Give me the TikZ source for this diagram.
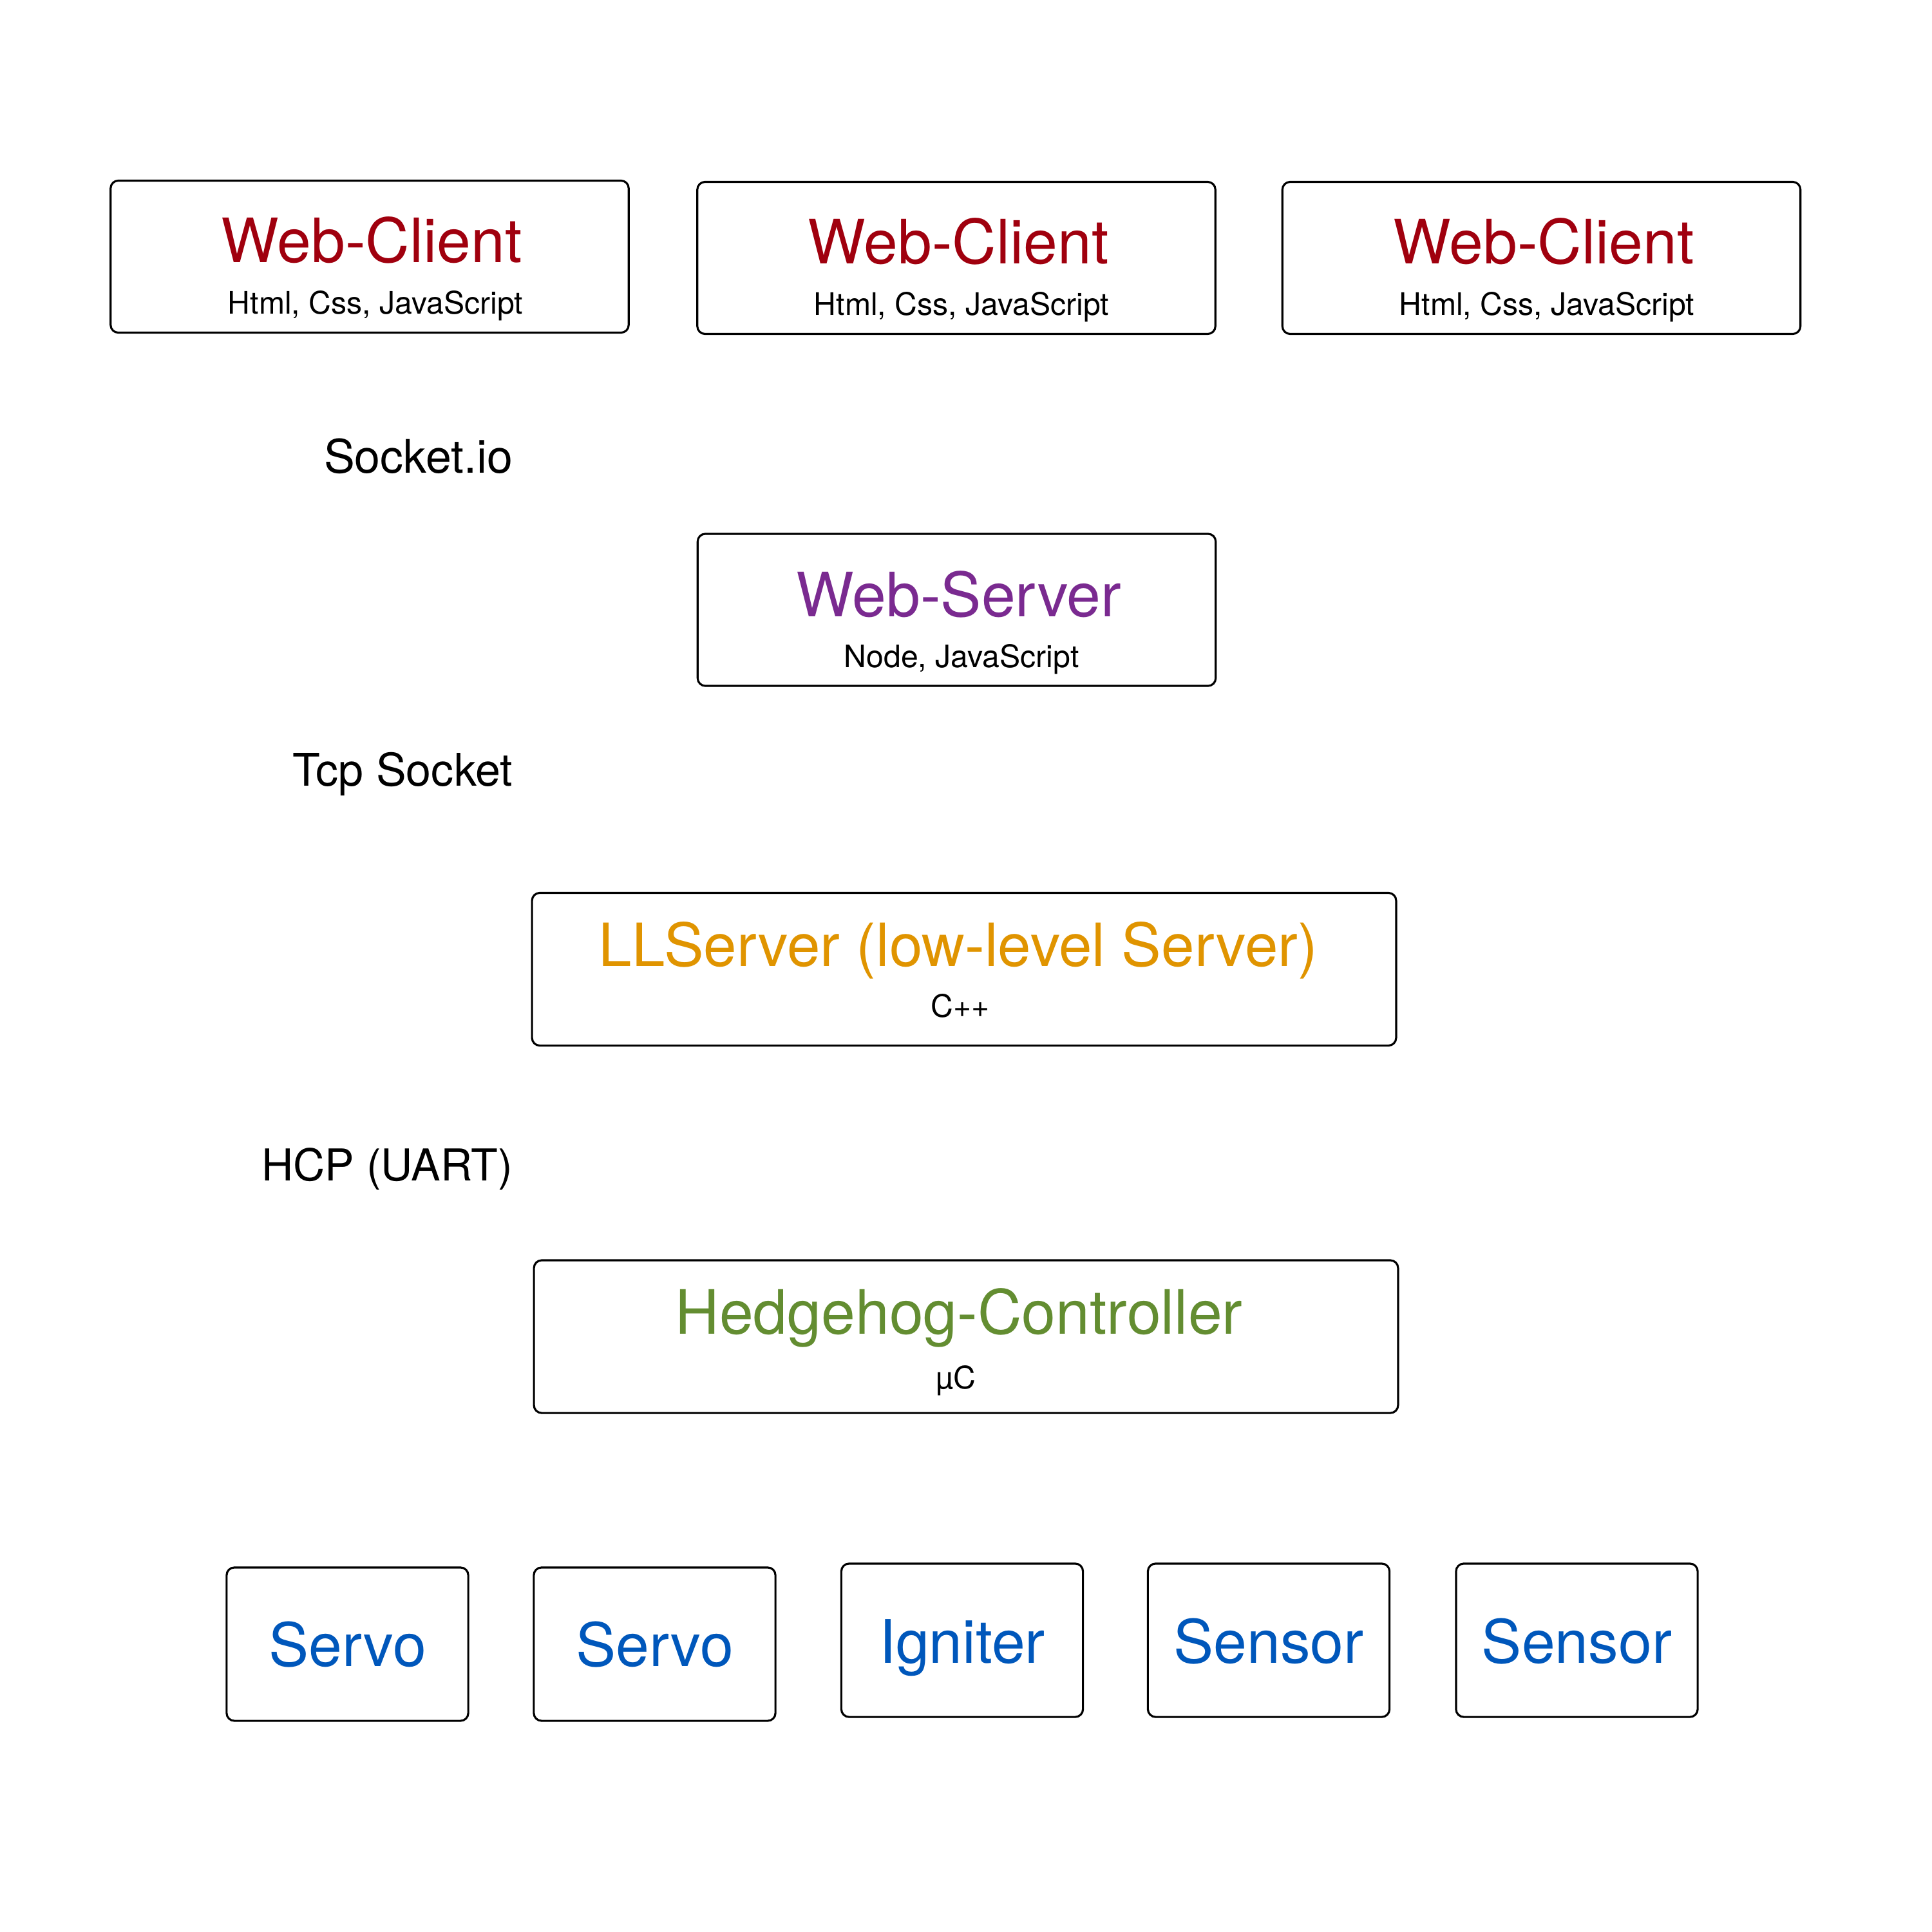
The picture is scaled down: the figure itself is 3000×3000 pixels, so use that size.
\documentclass[tikz,border=0pt]{standalone}
\usepackage{fontspec}
\setmainfont{TeX Gyre Heros}
\definecolor{clientred}{RGB}{160,0,14}
\definecolor{serverpurple}{RGB}{122,42,144}
\definecolor{llorange}{RGB}{224,148,0}
\definecolor{hhgreen}{RGB}{99,141,49}
\definecolor{devblue}{RGB}{0,87,187}
\begin{document}
\begin{tikzpicture}[x=0.01cm,y=-0.01cm,
  box/.style={draw=black, line width=0.9pt, rounded corners=0.12cm, inner sep=0pt},
  wide/.style={box, minimum width=8.04cm, minimum height=2.36cm},
  long/.style={box, minimum width=13.41cm, minimum height=2.37cm},
  small/.style={box, minimum width=3.75cm, minimum height=2.38cm},
  title/.style={anchor=base, inner sep=0pt, font=\fontsize{27}{31}\selectfont},
  devtitle/.style={anchor=base, inner sep=0pt, text=devblue, font=\fontsize{26.5}{30}\selectfont},
  sub/.style={anchor=base, inner sep=0pt, font=\fontsize{13.7}{16}\selectfont},
  link/.style={anchor=base east, inner sep=0pt}
]
\useasboundingbox (0,0) rectangle (3000,3000);

% clients
\node[wide] (wc1) at (574,398.5) {};
\node[wide] (wc2) at (1485,400.5) {};
\node[wide] (wc3) at (2393.5,400.5) {};
\node[title, text=clientred] (wc1t) at (577,407) {Web-Client};
\node[title, text=clientred] (wc2t) at (1488,409) {Web-Client};
\node[title, text=clientred] (wc3t) at (2397,409) {Web-Client};
\node[sub] (wc1s) at (583,487) {Html, Css, JavaScript};
\node[sub] (wc2s) at (1493,489) {Html, Css, JavaScript};
\node[sub] (wc3s) at (2402,489) {Html, Css, JavaScript};

% protocol labels
\node[link, font=\fontsize{20.4}{24}\selectfont] (sio) at (797,734) {Socket.io};
\node[link, font=\fontsize{19.9}{23}\selectfont] (tcp) at (797,1220) {Tcp Socket};
\node[link, font=\fontsize{19.4}{22}\selectfont] (hcp) at (797,1833) {HCP (UART)};

% web server
\node[wide] (ws) at (1485.5,947) {};
\node[title, text=serverpurple] (wst) at (1489,957) {Web-Server};
\node[sub] (wss) at (1493,1036) {Node, JavaScript};

% low-level server
\node[long] (ll) at (1497,1505) {};
\node[title, text=llorange, font=\fontsize{26.3}{30}\selectfont] (llt) at (1488,1500) {LLServer (low-level Server)};
\node[sub] (lls) at (1491,1579) {C++};

% controller
\node[long] (hh) at (1500,2075.5) {};
\node[title, text=hhgreen] (hht) at (1489,2071) {Hedgehog-Controller};
\node[sub] (hhs) at (1484,2156) {µC};

% devices
\node[small] (sv1) at (539.5,2553) {};
\node[small] (sv2) at (1016.5,2553) {};
\node[small] (ig) at (1494,2547) {};
\node[small] (sn1) at (1970,2547) {};
\node[small] (sn2) at (2448.5,2547) {};
\node[devtitle] (sv1t) at (539.5,2587) {Servo};
\node[devtitle] (sv2t) at (1016.5,2587) {Servo};
\node[devtitle] (igt) at (1494,2582) {Igniter};
\node[devtitle] (sn1t) at (1970,2582) {Sensor};
\node[devtitle] (sn2t) at (2448.5,2582) {Sensor};
\end{tikzpicture}
\end{document}
